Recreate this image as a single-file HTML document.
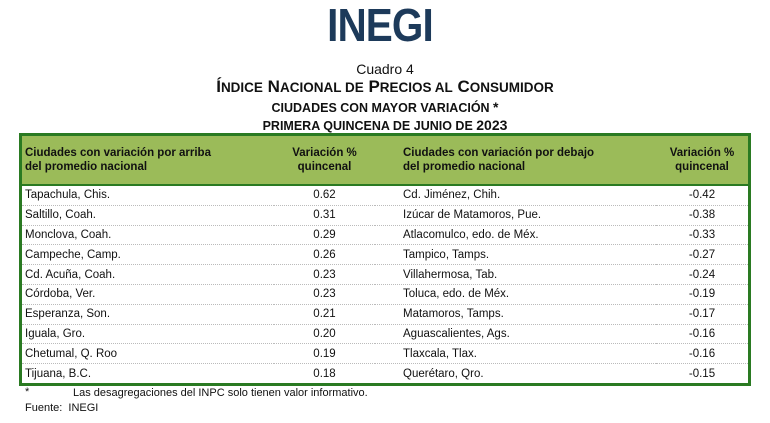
<!DOCTYPE html>
<html><head><meta charset="utf-8"><style>
body{margin:0;width:770px;height:423px;background:#fff;font-family:"Liberation Sans",sans-serif;position:relative;overflow:hidden;color:#111}
.a{position:absolute;white-space:nowrap}
.c{left:0;width:770px;text-align:center}
table{position:absolute;left:19px;top:133px;width:732px;border-collapse:collapse;border:3px solid #2a7a22;font-size:11.5px}
th{background:#9bbb59;font-weight:bold;text-align:left;height:48px;padding:0 3px;line-height:14px;vertical-align:middle;border-bottom:2px solid #2a7a22}
td{height:18.8px;padding:0 3px;border-bottom:1px dotted #bbb}
tr:last-child td{border-bottom:none}
.n{text-align:center}
td:nth-child(3),th:nth-child(3){padding-left:28px}
</style></head><body>
<div class="a c" style="top:-2px;left:-5px;font-size:46px;font-weight:bold;color:#1d3a5a;letter-spacing:-1px;transform:scaleX(0.88);">INEGI</div>
<div class="a c" style="top:61px;font-size:14px;">Cuadro 4</div>
<div class="a c" style="top:77px;font-size:17px;font-weight:bold;">Í<span style="font-size:13.5px">NDICE</span> N<span style="font-size:13.5px">ACIONAL DE</span> P<span style="font-size:13.5px">RECIOS AL</span> C<span style="font-size:13.5px">ONSUMIDOR</span></div>
<div class="a c" style="top:99px;font-size:12.5px;font-weight:bold;">CIUDADES CON MAYOR VARIACIÓN <span style="font-size:14px">*</span></div>
<div class="a c" style="top:117px;font-size:12.5px;font-weight:bold;">PRIMERA QUINCENA DE JUNIO DE <span style="font-size:14px">2023</span></div>
<table>
<tr><th style="width:246px">Ciudades con variación por arriba<br>del promedio nacional</th><th class="n" style="width:95px">Variación %<br>quincenal</th><th style="width:250px">Ciudades con variación por debajo<br>del promedio nacional</th><th class="n">Variación %<br>quincenal</th></tr>
<tr><td>Tapachula, Chis.</td><td class="n">0.62</td><td>Cd. Jiménez, Chih.</td><td class="n">-0.42</td></tr>
<tr><td>Saltillo, Coah.</td><td class="n">0.31</td><td>Izúcar de Matamoros, Pue.</td><td class="n">-0.38</td></tr>
<tr><td>Monclova, Coah.</td><td class="n">0.29</td><td>Atlacomulco, edo. de Méx.</td><td class="n">-0.33</td></tr>
<tr><td>Campeche, Camp.</td><td class="n">0.26</td><td>Tampico, Tamps.</td><td class="n">-0.27</td></tr>
<tr><td>Cd. Acuña, Coah.</td><td class="n">0.23</td><td>Villahermosa, Tab.</td><td class="n">-0.24</td></tr>
<tr><td>Córdoba, Ver.</td><td class="n">0.23</td><td>Toluca, edo. de Méx.</td><td class="n">-0.19</td></tr>
<tr><td>Esperanza, Son.</td><td class="n">0.21</td><td>Matamoros, Tamps.</td><td class="n">-0.17</td></tr>
<tr><td>Iguala, Gro.</td><td class="n">0.20</td><td>Aguascalientes, Ags.</td><td class="n">-0.16</td></tr>
<tr><td>Chetumal, Q. Roo</td><td class="n">0.19</td><td>Tlaxcala, Tlax.</td><td class="n">-0.16</td></tr>
<tr><td>Tijuana, B.C.</td><td class="n">0.18</td><td>Querétaro, Qro.</td><td class="n">-0.15</td></tr>
</table>
<div class="a" style="left:25px;top:386px;font-size:11px;">*</div>
<div class="a" style="left:73px;top:387px;font-size:11px;">Las desagregaciones del INPC solo tienen valor informativo.</div>
<div class="a" style="left:25px;top:402px;font-size:11px;">Fuente:&nbsp; INEGI</div>
</body></html>
